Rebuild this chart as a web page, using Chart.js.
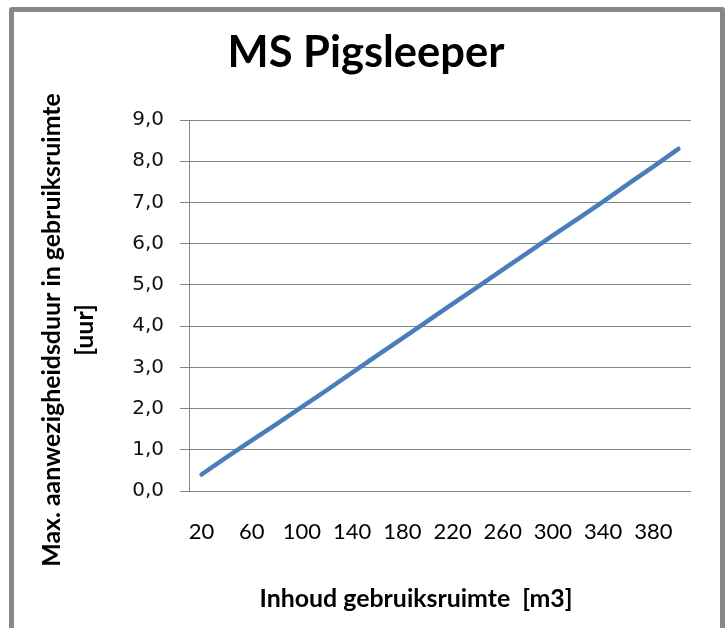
<!DOCTYPE html>
<html>
<head>
<meta charset="utf-8">
<script src="https://cdn.jsdelivr.net/npm/chart.js@4.4.1/dist/chart.umd.min.js"></script>
<style>
  html,body{margin:0;padding:0;background:#fff;}
  #wrap{position:relative;width:728px;height:628px;overflow:hidden;}
  #frame{position:absolute;left:9px;top:7px;width:706px;height:640px;border:5px solid #888;border-radius:3px;pointer-events:none;}
  canvas{position:absolute;left:0;top:0;}
</style>
</head>
<body>
<div id="wrap">
  <canvas id="c" width="728" height="628"></canvas>
  <div id="frame"></div>
</div>
<script>
// inhoud gebruiksruimte [m3]
const volumes = ['20','40','60','80','100','120','140','160','180','200','220','240','260','280','300','320','340','360','380','400'];
// max. aanwezigheidsduur [uur]
const hours   = [0.40,0.82,1.23,1.63,2.04,2.45,2.87,3.29,3.70,4.12,4.54,4.95,5.37,5.78,6.20,6.61,7.02,7.45,7.87,8.30];

const chartTitle = 'MS Pigsleeper';
const yTitle = ['Max. aanwezigheidsduur in gebruiksruimte','[uur]'];
const xTitle = 'Inhoud gebruiksruimte  [m3]';

const GRID = '#868686';

// font size that makes text span a given width
const fit = (ctx, txt, w, weight, fam) => {
  ctx.font = `${weight} 20px ${fam}`;
  const s = 20 * w / ctx.measureText(txt).width;
  return `${weight} ${s.toFixed(1)}px ${fam}`;
};

const texts = {
  id:'texts',
  afterDraw(chart){
    const ctx = chart.ctx;
    ctx.save();
    ctx.fillStyle = '#000';
    ctx.textAlign = 'center';
    ctx.textBaseline = 'alphabetic';
    ctx.font = fit(ctx, chartTitle, 277, 'bold', 'Lato');
    ctx.fillText(chartTitle, 366, 67);

    ctx.font = fit(ctx, xTitle, 313, 'bold', 'Lato');
    ctx.fillText(xTitle, 416, 607);

    ctx.translate(0, 330);
    ctx.rotate(-Math.PI/2);
    ctx.textBaseline = 'middle';
    ctx.font = fit(ctx, yTitle[0], 474, 'bold', 'Lato');
    ctx.fillText(yTitle[0], 0, 52);
    ctx.fillText(yTitle[1], 0, 85);
    ctx.restore();
  }
};

const bg = {
  id:'bg',
  beforeDraw(chart){
    const ctx = chart.ctx;
    ctx.save(); ctx.fillStyle = '#fff'; ctx.fillRect(0,0,chart.width,chart.height); ctx.restore();
  }
};

new Chart(document.getElementById('c'), {
  type:'line',
  data:{
    labels:volumes,
    datasets:[{data:hours,borderColor:'#4a7ebb',borderWidth:4.5,pointRadius:0,tension:0,borderCapStyle:'round',borderJoinStyle:'round',fill:false}]
  },
  options:{
    responsive:false,animation:false,
    layout:{padding:{top:120,right:37,left:0,bottom:0}},
    plugins:{legend:{display:false},tooltip:{enabled:false},title:{display:false}},
    scales:{
      x:{
        type:'category',offset:true,
        grid:{display:false,drawTicks:false,offset:true},
        border:{display:false},
        ticks:{
          autoSkip:false,maxRotation:0,padding:28,color:'#000',
          font:{family:'Lato',size:22},
          callback:function(v,i){return i%2===0 ? this.getLabelForValue(v) : '';}
        },
        afterFit:s=>{s.height=137;}
      },
      y:{
        min:0,max:9,
        grid:{color:GRID,lineWidth:1,drawTicks:true,tickLength:9},
        border:{display:true,color:GRID,width:1},
        ticks:{
          stepSize:1,padding:16,color:'#111',
          font:{family:'DejaVu Sans',size:20},
          callback:v=>v.toFixed(1).replace('.',',')
        },
        afterFit:s=>{s.width=189;}
      }
    }
  },
  plugins:[bg,texts]
});
</script>
</body>
</html>
